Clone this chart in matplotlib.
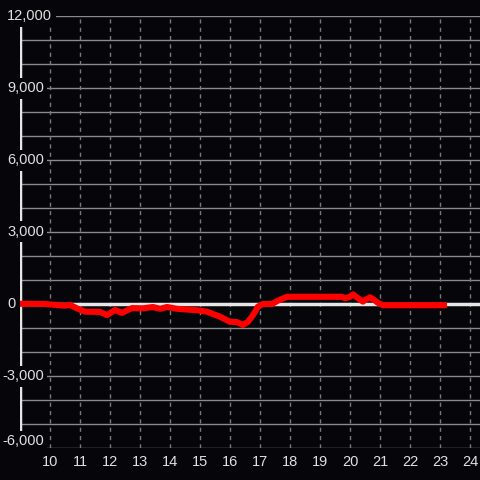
import matplotlib
matplotlib.use("Agg")
import matplotlib.pyplot as plt
import matplotlib.transforms as mtransforms

plt.rcParams['font.family'] = ['Liberation Sans', 'DejaVu Sans']

# hour of day vs value
hours = [9.0, 9.83, 10.5, 10.67, 10.93, 11.17, 11.67, 11.9, 12.17, 12.4, 12.73,
         13.1, 13.43, 13.67, 13.9, 14.23, 14.9, 15.23, 15.67, 16.0, 16.23, 16.43,
         16.6, 16.77, 16.93, 17.1, 17.4, 17.6, 17.9, 19.73, 19.83, 20.0, 20.1,
         20.27, 20.43, 20.5, 20.57, 20.67, 20.77, 20.93, 21.1, 23.13]
values = [10, 0, -70, -40, -200, -320, -330, -460, -250, -370, -170,
          -180, -125, -200, -125, -200, -260, -320, -530, -740, -750, -875,
          -740, -460, -110, 0, 0, 140, 300, 300, 240, 300, 400,
          240, 100, 170, 210, 280, 200, 50, -50, -50]

x_ticks = list(range(10, 25))
y_labels = [12000, 9000, 6000, 3000, 0, -3000, -6000]
y_grid = list(range(-6000, 12001, 1000))

bg = '#060509'
fig = plt.figure(figsize=(4.8, 4.8), dpi=100, facecolor=bg)
ax = fig.add_axes([20 / 480, 32 / 480, 460 / 480, 432 / 480])
ax.set_facecolor(bg)
ax.set_xlim(9, 9 + 460 / 30)
ax.set_ylim(-6000, 12000)

for s in ax.spines.values():
    s.set_visible(False)

for yv in y_grid:
    ax.axhline(yv, color='#8a8a8a', lw=1, zorder=1)
for xv in x_ticks:
    ax.axvline(xv, color='#7a7a7a', lw=1, ls=(0, (3, 3)), zorder=1)

ax.axhline(0, color='#e6e6e6', lw=2.5, zorder=2)
ax.axvline(9, color='#e6e6e6', lw=2.5, zorder=2)

ax.plot(hours, values, color='#ff0000', lw=4.4, solid_capstyle='projecting',
        solid_joinstyle='round', zorder=3)

ax.set_xticks(x_ticks)
ax.set_xticklabels([str(h) for h in x_ticks])
ax.set_yticks([])
ax.tick_params(axis='x', length=0, pad=5, colors='#e0e0e0', labelsize=10.5)

trans = mtransforms.blended_transform_factory(fig.transFigure, ax.transData)
for yv in y_labels:
    txt = f"{yv:,}"
    xpos = 7 / 480 if yv >= 0 else 2 / 480
    va = 'bottom' if yv == -6000 else 'center'
    ax.text(xpos, yv, txt, transform=trans, ha='left', va=va, color='#e0e0e0',
            fontsize=10.5, clip_on=False, zorder=5,
            bbox=dict(facecolor=bg, edgecolor='none', pad=2.5))

fig.savefig('out.png', dpi=100, facecolor=bg)
